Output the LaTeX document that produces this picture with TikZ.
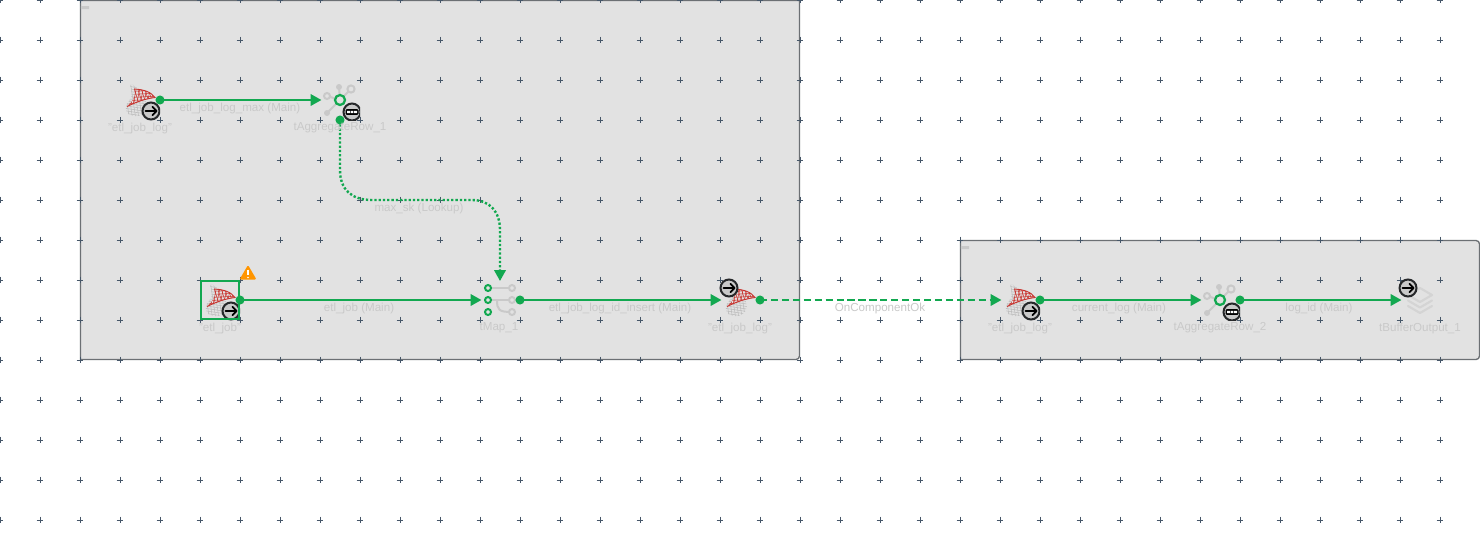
\documentclass[tikz,border=0pt]{standalone}
\usepackage{fontspec}
\setmainfont{Liberation Sans}
\usetikzlibrary{arrows.meta}
\definecolor{flowgreen}{HTML}{12A850}
\definecolor{gridslate}{HTML}{465769}
\definecolor{groupfill}{HTML}{E2E2E2}
\definecolor{groupedge}{HTML}{6C7074}
\definecolor{ghost}{HTML}{C9C9C9}
\definecolor{bowlgrey}{HTML}{BBBBBB}
\definecolor{badgeedge}{HTML}{26282A}
\definecolor{sqlred}{HTML}{C8332E}
\definecolor{warnorange}{HTML}{FF9500}
\tikzset{
  groupbox/.style={draw=groupedge,fill=groupfill,line width=1pt},
  lbl/.style={inner sep=0pt,text=ghost,font=\fontsize{8.7pt}{10pt}\selectfont,anchor=center},
  outdot/.style={circle,fill=flowgreen,draw=none,minimum size=6.8pt,inner sep=0pt},
  flow/.style={draw=flowgreen,line width=1.8pt,-{Triangle[length=8.25pt,width=8.6pt,fill=flowgreen]}},
  lookupflow/.style={flow,dash pattern=on 1.7pt off 1.5pt},
  okflow/.style={flow,dash pattern=on 5.4pt off 2.8pt},
  ghostline/.style={draw=ghost,line width=1.5pt},
  greenring/.style={draw=flowgreen,fill=groupfill},
  mesh/.style={line width=.4pt}
}
\newcommand{\gridplus}[2]{\draw[gridslate,line width=.74pt] (#1-3.3,#2)--(#1+3.3,#2) (#1,#2-3.3)--(#1,#2+3.3);}
\newcommand{\arrowbadge}[2]{%
  \begin{scope}[shift={(#1,#2)}]
    \fill[ghost] (0,0) circle (8.5);
    \draw[badgeedge,line width=1.5pt] (0,0) circle (8.5);
    \draw[black,line width=1.35pt,line cap=round,line join=round] (-5.5,0)--(5.5,0) (1.4,-4.2)--(5.5,0)--(1.4,4.2);
  \end{scope}}
\newcommand{\rowbadge}[2]{%
  \begin{scope}[shift={(#1,#2)}]
    \fill[ghost] (0,0) circle (8.5);
    \draw[badgeedge,line width=1.5pt] (0,0) circle (8.5);
    \fill[black,rounded corners=.8] (-6.5,-2.8) rectangle (6.5,2.8);
    \fill[white] (-5,-1.2) rectangle (-2.2,1.2) (-1.4,-1.2) rectangle (1.4,1.2) (2.2,-1.2) rectangle (5,1.2);
  \end{scope}}
\newcommand{\sqlglyph}[2]{%
  \begin{scope}[shift={(#1,#2)}]
    \begin{scope}
      \clip (10,5) .. controls (13,3.5) and (16,6) .. (18,10) .. controls (26,19) and (28,24) .. (26,30) .. controls (23,37) and (11,38) .. (7.5,33) .. controls (4.5,29) and (5.5,25) .. (9,21) .. controls (13,17) and (12,11) .. (10,5) -- cycle;
      \foreach \k in {0,2.5,...,38} {\draw[bowlgrey,mesh] (0,\k)--(40,\k+6);}
      \foreach \k in {-6,-2.8,...,36} {\draw[bowlgrey,mesh] (\k,0)--(\k+6,40);}
    \end{scope}
    \begin{scope}
      \clip (14,9) .. controls (24,9.5) and (31,12) .. (35,17.5) .. controls (31,18) and (27,19) .. (23,20) .. controls (17,22) and (12,24) .. (7,26.5) .. controls (12,21) and (17,17) .. (14,9) -- cycle;
      \fill[groupfill] (0,0) rectangle (40,40);
      \foreach \k in {-6,-3,...,30} {\draw[sqlred,mesh] (0,\k)--(40,\k-2);}
      \foreach \k in {-4,-0.5,...,44} {\draw[sqlred,mesh] (\k,5)--(\k-5,30);}
      \foreach \k in {-8,-4.5,...,44} {\draw[sqlred,mesh] (\k,5)--(\k+8,30);}
    \end{scope}
    \draw[sqlred,line width=.7pt] (14,9) .. controls (24,9.5) and (31,12) .. (35,17.5) .. controls (31,18) and (27,19) .. (23,20) .. controls (17,22) and (12,24) .. (7,26.5);
  \end{scope}}
\newcommand{\aggglyph}[2]{%
  \begin{scope}[shift={(#1,#2)}]
    \draw[ghostline] (7,33)--(20,20) (19,7)--(20,20) (31,9)--(20,20) (7,16)--(20,20);
    \fill[ghost] (19,7) circle (3) (7,33) circle (3);
    \draw[ghostline,fill=groupfill] (31,9) circle (3.6) (7,16) circle (3);
    \draw[greenring,line width=1.7pt] (20,20) circle (5);
  \end{scope}}
\begin{document}
\begin{tikzpicture}[x=0.75pt,y=-0.75pt]
\useasboundingbox (0,0) rectangle (1480,547);
\clip (0,0) rectangle (1480,547);
\fill[white] (0,0) rectangle (1480,547);
% subjob groups
\path[groupbox] (80.5,0.5) -- (799.5,0.5) -- (799.5,356) arc[start angle=0,end angle=90,radius=3.5] -- (80.5,359.5) -- cycle;
\path[groupbox] (960.5,240.5) -- (1476,240.5) arc[start angle=-90,end angle=0,radius=3.5] -- (1479.5,356) arc[start angle=0,end angle=90,radius=3.5] -- (960.5,359.5) -- cycle;
\fill[ghost] (80.8,6) rectangle (89,9) (960.8,246) rectangle (969,249);
% background grid
\foreach \gx in {0,40,...,1440} \foreach \gy in {0,40,...,520} {\gridplus{\gx}{\gy}}
% icons
\sqlglyph{120}{80}
\begin{scope}\clip (120,80) rectangle (160,120); \arrowbadge{151}{111}\end{scope}
\aggglyph{320}{80}
\begin{scope}\clip (320,80) rectangle (360,120); \rowbadge{352}{112}\end{scope}
\sqlglyph{200}{280}
\begin{scope}\clip (200,280) rectangle (240,320); \arrowbadge{231}{311}\end{scope}
\draw[flowgreen,line width=1.7pt] (201,281) rectangle (239,319);
% warning mark
\fill[warnorange,rounded corners=1] (248,265) -- (256.5,279.5) -- (239.5,279.5) -- cycle;
\draw[white,line width=1.2pt] (248,269.5)--(248,275);
\fill[white] (248,277.4) circle (.9);
% tMap icon
\draw[ghostline] (488,288)--(512,288) (488,300)--(512,300);
\draw[ghostline] (497,300) .. controls (497,310) and (499,312) .. (512,312);
\draw[ghostline,fill=groupfill] (512,288) circle (3) (512,300) circle (3) (512,312) circle (3);
\draw[greenring,line width=1.5pt] (488,288) circle (3) (488,300) circle (3) (488,312) circle (3);
% target sql
\sqlglyph{720}{280}
\arrowbadge{729}{288}
\sqlglyph{1000}{280}
\begin{scope}\clip (1000,280) rectangle (1040,320); \arrowbadge{1031}{311}\end{scope}
\aggglyph{1200}{280}
\begin{scope}\clip (1200,280) rectangle (1240,320); \rowbadge{1232}{312}\end{scope}
% buffer icon
\begin{scope}[ghost!80!white,line width=1.6pt,line join=round,line cap=round]
\draw (1420,288)--(1432,295)--(1420,302)--(1408,295)--cycle;
\draw (1408,300.5)--(1420,307.5)--(1432,300.5);
\draw (1408,306)--(1420,313)--(1432,306);
\end{scope}
\arrowbadge{1408}{288}
% connector ends
\node[outdot] (out1) at (160,100) {};
\node[outdot] (out2) at (340,120) {};
\node[outdot] (out3) at (240,300) {};
\node[outdot] (out4) at (520,300) {};
\node[outdot] (out5) at (760,300) {};
\node[outdot] (out6) at (1040,300) {};
\node[outdot] (out7) at (1240,300) {};
\coordinate (in1) at (321.5,100);
\coordinate (in2) at (500,281);
\coordinate (in3) at (481.5,300);
\coordinate (in4) at (721.5,300);
\coordinate (in5) at (1001.5,300);
\coordinate (in6) at (1201.5,300);
\coordinate (in7) at (1401.5,300);
% connectors
\draw[flow] (out1.center) -- (in1);
\draw[lookupflow] (out2.center) -- (340,170) .. controls (340,190) and (352,200) .. (372,200) -- (472,200) .. controls (490,200) and (500,212) .. (500,230) -- (in2);
\draw[flow] (out3.center) -- (in3);
\draw[flow] (out4.center) -- (in4);
\draw[okflow] (out5.center) -- (in5);
\draw[flow] (out6.center) -- (in6);
\draw[flow] (out7.center) -- (in7);
% labels
\node[lbl] (l1) at (240,108) {etl\_job\_log\_max (Main)};
\node[lbl] (l2) at (140,128) {"etl\_job\_log"};
\node[lbl] (l3) at (340,128) {tAggregateRow\_1};
\node[lbl] (l4) at (419,208) {max\_sk (Lookup)};
\node[lbl] (l5) at (359,308) {etl\_job (Main)};
\node[lbl] (l6) at (220,328) {"etl\_job"};
\node[lbl] (l7) at (499,328) {tMap\_1};
\node[lbl] (l8) at (620,308) {etl\_job\_log\_id\_insert (Main)};
\node[lbl] (l9) at (740,328) {"etl\_job\_log"};
\node[lbl] (l10) at (880,308) {OnComponentOk};
\node[lbl] (l11) at (1020,328) {"etl\_job\_log"};
\node[lbl] (l12) at (1119,308) {current\_log (Main)};
\node[lbl] (l13) at (1220,328) {tAggregateRow\_2};
\node[lbl] (l14) at (1319,308) {log\_id (Main)};
\node[lbl] (l15) at (1420,328) {tBufferOutput\_1};
\end{tikzpicture}
\end{document}
